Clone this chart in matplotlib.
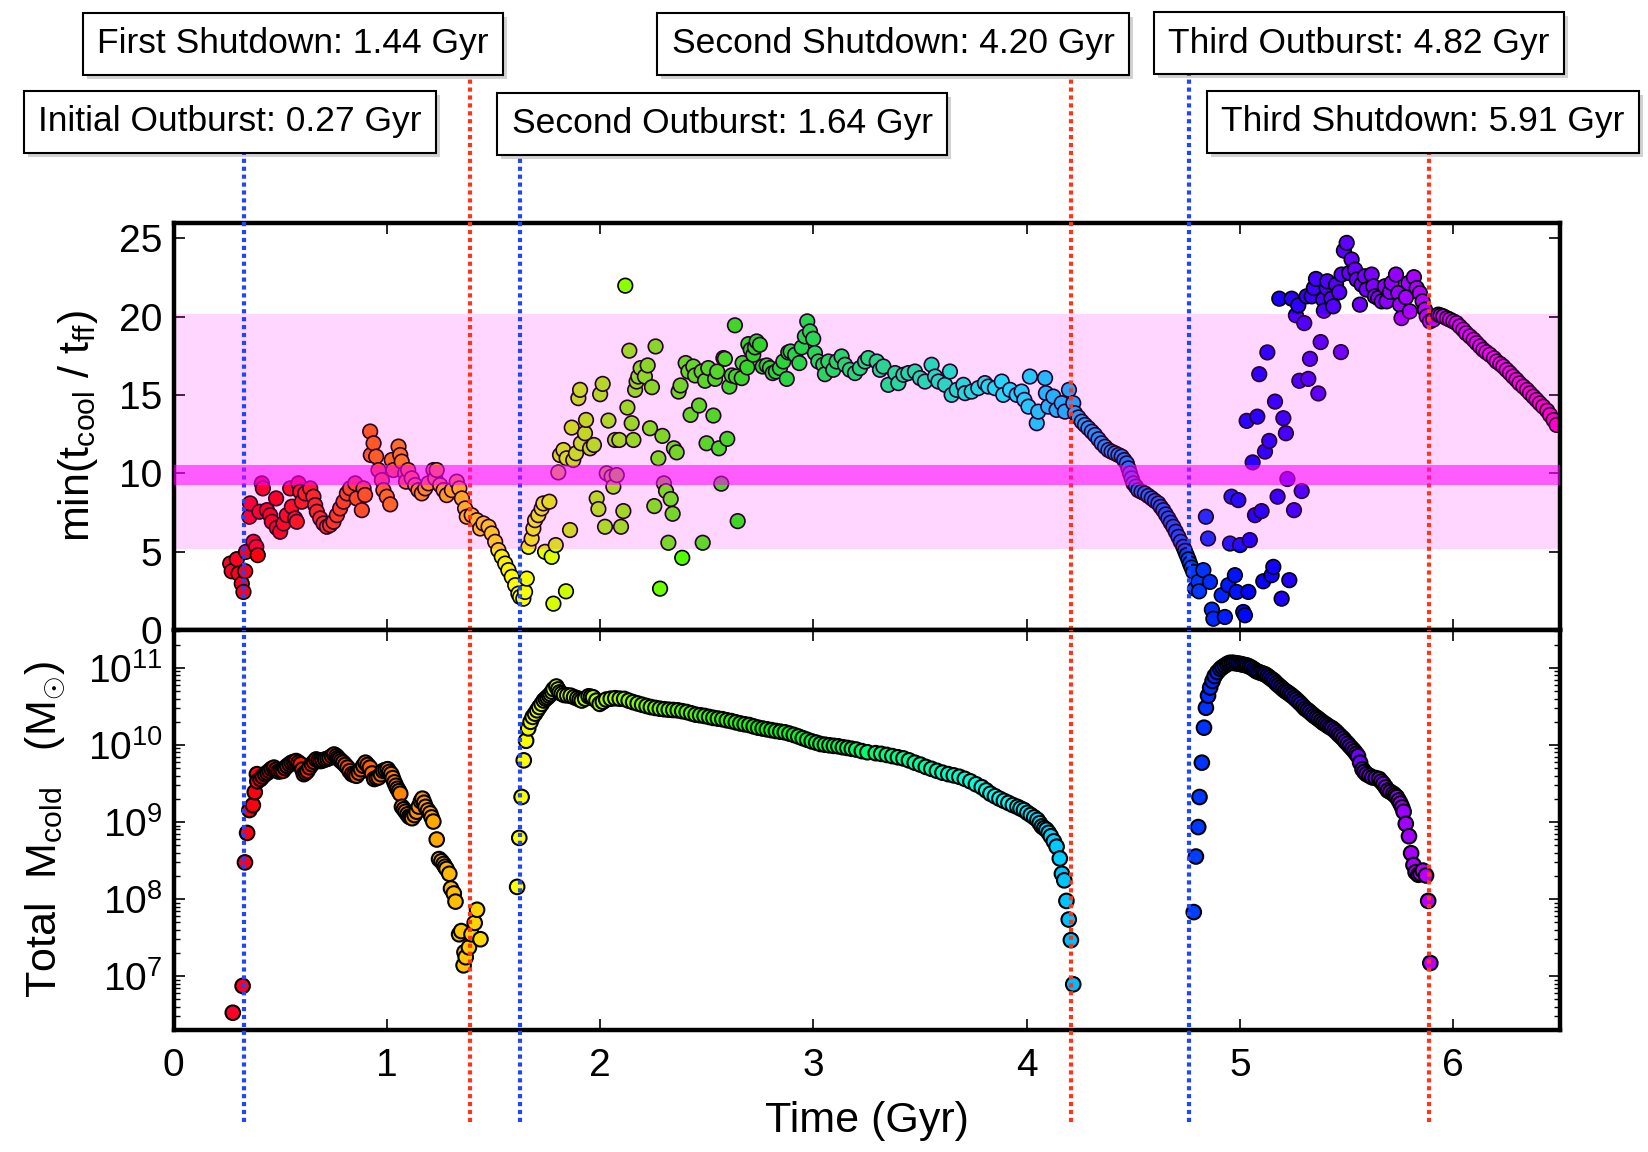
import numpy as np
import matplotlib
matplotlib.use('Agg')
import matplotlib.pyplot as plt
from matplotlib import patheffects

plt.rcParams['font.family'] = ['Liberation Sans', 'DejaVu Sans']
plt.rcParams['mathtext.fontset'] = 'custom'
plt.rcParams['mathtext.rm'] = 'Liberation Sans'
plt.rcParams['mathtext.it'] = 'Liberation Sans:italic'
plt.rcParams['mathtext.bf'] = 'Liberation Sans:bold'

# ---- top panel: min(t_cool / t_ff) vs time (Gyr) ----
t_ratio = [
    0.266, 0.273, 0.297, 0.305, 0.320, 0.328, 0.336, 0.340, 0.356, 0.359,
    0.375, 0.388, 0.395, 0.403, 0.414, 0.419, 0.438, 0.453, 0.461, 0.481,
    0.484, 0.500, 0.516, 0.531, 0.547, 0.555, 0.570, 0.578, 0.586, 0.594,
    0.602, 0.617, 0.641, 0.656, 0.664, 0.672, 0.688, 0.703, 0.719, 0.734,
    0.750, 0.766, 0.781, 0.797, 0.813, 0.828, 0.852, 0.859, 0.883, 0.891,
    0.898, 0.922, 0.925, 0.938, 0.950, 0.961, 0.977, 0.984, 1.000, 1.016,
    1.023, 1.031, 1.055, 1.063, 1.070, 1.086, 1.090, 1.100, 1.117, 1.133,
    1.148, 1.164, 1.180, 1.195, 1.219, 1.227, 1.234, 1.250, 1.266, 1.281,
    1.305, 1.328, 1.340, 1.352, 1.367, 1.375, 1.398, 1.422, 1.438, 1.453,
    1.477, 1.492, 1.508, 1.523, 1.539, 1.555, 1.570, 1.586, 1.602, 1.617,
    1.625, 1.640, 1.648, 1.656, 1.664, 1.679, 1.687, 1.695, 1.710, 1.726,
    1.734, 1.742, 1.762, 1.773, 1.781, 1.792, 1.804, 1.812, 1.828, 1.840,
    1.843, 1.859, 1.867, 1.874, 1.887, 1.898, 1.906, 1.910, 1.929, 1.934,
    1.953, 1.971, 1.984, 1.992, 2.000, 2.012, 2.023, 2.031, 2.039, 2.054,
    2.062, 2.070, 2.078, 2.090, 2.098, 2.109, 2.118, 2.128, 2.137, 2.148,
    2.156, 2.164, 2.171, 2.179, 2.190, 2.210, 2.223, 2.234, 2.243, 2.254,
    2.260, 2.273, 2.281, 2.292, 2.299, 2.309, 2.320, 2.331, 2.340, 2.346,
    2.359, 2.368, 2.377, 2.385, 2.401, 2.414, 2.424, 2.437, 2.445, 2.464,
    2.476, 2.481, 2.492, 2.499, 2.507, 2.531, 2.539, 2.549, 2.557, 2.568,
    2.578, 2.585, 2.596, 2.606, 2.617, 2.632, 2.637, 2.645, 2.664, 2.668,
    2.690, 2.695, 2.706, 2.718, 2.726, 2.734, 2.749, 2.762, 2.781, 2.796,
    2.809, 2.824, 2.843, 2.859, 2.875, 2.882, 2.893, 2.914, 2.934, 2.945,
    2.960, 2.971, 2.984, 2.999, 3.007, 3.023, 3.046, 3.054, 3.070, 3.093,
    3.109, 3.132, 3.148, 3.171, 3.195, 3.218, 3.242, 3.257, 3.297, 3.312,
    3.328, 3.351, 3.383, 3.398, 3.422, 3.445, 3.476, 3.500, 3.523, 3.554,
    3.570, 3.586, 3.617, 3.640, 3.648, 3.672, 3.703, 3.711, 3.742, 3.773,
    3.804, 3.820, 3.851, 3.883, 3.890, 3.922, 3.953, 3.976, 3.989, 4.008,
    4.015, 4.047, 4.054, 4.086, 4.090, 4.101, 4.125, 4.140, 4.164, 4.179,
    4.198, 4.218, 4.226, 4.242, 4.258, 4.273, 4.289, 4.305, 4.320, 4.336,
    4.351, 4.367, 4.383, 4.398, 4.414, 4.430, 4.445, 4.457, 4.469, 4.477,
    4.484, 4.492, 4.500, 4.512, 4.523, 4.538, 4.554, 4.570, 4.586, 4.601,
    4.617, 4.628, 4.640, 4.652, 4.664, 4.675, 4.687, 4.699, 4.711, 4.722,
    4.734, 4.742, 4.750, 4.758, 4.765, 4.773, 4.781, 4.789, 4.804, 4.808,
    4.828, 4.840, 4.850, 4.859, 4.868, 4.875, 4.914, 4.929, 4.945, 4.953,
    4.960, 4.976, 4.984, 4.992, 5.000, 5.015, 5.023, 5.031, 5.039, 5.046,
    5.059, 5.070, 5.081, 5.090, 5.101, 5.109, 5.117, 5.128, 5.137, 5.148,
    5.156, 5.164, 5.176, 5.184, 5.195, 5.203, 5.215, 5.222, 5.231, 5.242,
    5.253, 5.262, 5.273, 5.278, 5.289, 5.301, 5.312, 5.320, 5.328, 5.336,
    5.346, 5.356, 5.367, 5.378, 5.390, 5.393, 5.406, 5.409, 5.429, 5.437,
    5.450, 5.465, 5.473, 5.476, 5.487, 5.500, 5.512, 5.523, 5.539, 5.547,
    5.562, 5.570, 5.585, 5.593, 5.617, 5.625, 5.632, 5.648, 5.664, 5.679,
    5.687, 5.703, 5.711, 5.731, 5.742, 5.750, 5.757, 5.778, 5.789, 5.796,
    5.815, 5.828, 5.843, 5.856, 5.867, 5.875, 5.890, 5.906, 5.929, 5.940,
    5.953, 5.970, 5.984, 6.000, 6.015, 6.030, 6.046, 6.060, 6.078, 6.095,
    6.109, 6.125, 6.140, 6.155, 6.171, 6.190, 6.203, 6.220, 6.234, 6.250,
    6.265, 6.280, 6.296, 6.310, 6.328, 6.345, 6.359, 6.375, 6.390, 6.405,
    6.421, 6.440, 6.453, 6.470, 6.484,
]
ratio = [
    4.24, 3.75, 4.52, 3.60, 2.96, 2.43, 3.75, 4.99, 7.23, 8.08,
    5.63, 5.31, 4.78, 7.55, 9.36, 9.04, 7.65, 7.33, 6.91, 8.40,
    6.52, 6.27, 6.80, 7.33, 9.04, 7.87, 7.12, 6.91, 9.36, 8.83,
    8.19, 8.72, 9.04, 8.51, 7.97, 7.55, 7.12, 6.80, 6.59, 6.70,
    6.91, 7.33, 7.76, 8.19, 8.72, 9.04, 9.36, 8.40, 7.65, 9.04,
    8.62, 12.67, 11.17, 11.92, 11.07, 10.21, 9.57, 8.93, 8.51, 8.02,
    10.85, 10.21, 11.71, 11.17, 10.75, 10.00, 9.47, 10.21, 9.68, 9.25,
    8.93, 8.72, 9.04, 9.36, 10.21, 9.68, 10.21, 9.25, 8.93, 8.61,
    8.93, 9.47, 9.04, 8.40, 7.76, 7.23, 7.33, 7.01, 6.48, 6.80,
    6.59, 6.16, 5.63, 5.10, 4.67, 4.24, 3.82, 3.39, 2.86, 2.32,
    2.11, 2.00, 2.43, 3.28, 5.31, 5.84, 6.48, 7.01, 7.33, 7.76,
    8.08, 4.99, 8.19, 4.67, 1.68, 5.42, 10.06, 11.17, 11.49, 2.47,
    10.96, 6.38, 12.92, 10.85, 11.28, 14.80, 15.33, 11.92, 12.56, 13.41,
    11.60, 11.81, 8.40, 7.72, 15.05, 15.71, 6.59, 10.00, 13.37, 9.79,
    9.15, 12.13, 9.89, 12.13, 6.59, 7.59, 21.98, 14.20, 17.83, 13.20,
    12.13, 15.33, 15.86, 16.18, 16.72, 16.18, 16.89, 12.88, 15.50, 7.91,
    18.10, 10.96, 2.64, 12.39, 9.36, 8.87, 5.57, 8.36, 7.42, 11.60,
    11.34, 15.22, 15.61, 4.61, 17.04, 16.50, 13.73, 16.82, 16.25, 14.33,
    16.50, 5.57, 15.91, 11.92, 16.72, 13.69, 16.03, 16.50, 11.60, 9.34,
    17.36, 17.31, 12.20, 15.54, 16.25, 19.45, 16.18, 6.95, 16.08, 17.04,
    16.76, 18.25, 17.89, 17.57, 18.04, 18.42, 18.21, 16.82, 16.89, 16.72,
    16.40, 16.50, 16.72, 17.14, 16.03, 17.72, 17.78, 17.57, 17.04, 18.04,
    18.74, 19.70, 19.06, 18.59, 17.68, 17.14, 16.93, 16.33, 17.14, 16.61,
    17.14, 17.46, 16.93, 16.61, 16.40, 16.72, 17.14, 17.36, 17.14, 16.61,
    16.82, 15.65, 16.40, 15.76, 16.29, 16.40, 16.50, 16.08, 15.86, 16.93,
    16.18, 15.86, 15.65, 16.50, 15.01, 15.33, 15.65, 15.12, 15.22, 15.44,
    15.76, 15.54, 15.44, 15.86, 15.01, 15.33, 15.01, 15.22, 14.69, 14.26,
    16.18, 13.20, 13.94, 16.08, 15.12, 14.26, 14.90, 14.05, 14.48, 13.94,
    15.33, 14.48, 13.84, 13.57, 13.30, 13.09, 12.88, 12.66, 12.45, 12.18,
    11.92, 11.70, 11.49, 11.38, 11.28, 11.17, 11.07, 10.85, 10.64, 10.32,
    10.00, 9.68, 9.36, 9.15, 8.93, 8.82, 8.72, 8.56, 8.40, 8.24,
    8.08, 7.86, 7.65, 7.38, 7.12, 6.85, 6.59, 6.27, 5.95, 5.63,
    5.31, 5.05, 4.78, 4.51, 4.24, 3.98, 3.71, 2.64, 3.07, 2.47,
    3.82, 7.23, 5.84, 3.07, 1.30, 0.72, 2.22, 0.83, 2.86, 5.52,
    8.51, 3.50, 2.43, 8.29, 5.42, 1.15, 0.94, 13.35, 2.43, 5.74,
    10.70, 7.33, 13.62, 16.33, 7.59, 3.11, 11.39, 17.72, 12.07, 3.50,
    4.03, 14.58, 8.51, 21.15, 2.00, 13.52, 12.56, 9.64, 3.18, 21.15,
    7.65, 20.09, 20.72, 15.91, 8.87, 19.59, 21.30, 16.03, 17.31, 21.30,
    21.83, 22.41, 15.10, 18.38, 21.09, 20.38, 21.83, 22.26, 21.15, 20.66,
    22.05, 21.56, 17.74, 22.69, 24.22, 24.71, 22.79, 23.65, 23.00, 22.37,
    20.77, 22.05, 22.58, 21.73, 22.69, 21.94, 21.30, 21.19, 20.98, 21.94,
    20.98, 21.58, 22.15, 22.69, 21.51, 20.77, 19.91, 21.24, 22.15, 20.34,
    22.52, 21.83, 21.51, 20.98, 20.45, 20.02, 19.70, 19.81, 20.13, 20.08,
    20.02, 19.90, 19.81, 19.70, 19.59, 19.38, 19.17, 18.95, 18.74, 18.53,
    18.32, 18.10, 17.89, 17.73, 17.57, 17.35, 17.14, 16.98, 16.82, 16.60,
    16.40, 16.18, 15.97, 15.75, 15.54, 15.33, 15.12, 14.90, 14.69, 14.47,
    14.26, 14.00, 13.73, 13.40, 13.09,
]

# ---- bottom panel: total cold gas mass, log10(M / Msun) ----
t_cold = [
    0.278, 0.324, 0.335, 0.345, 0.356, 0.372, 0.381, 0.391, 0.393, 0.408,
    0.418, 0.429, 0.440, 0.450, 0.460, 0.471, 0.482, 0.492, 0.503, 0.513,
    0.523, 0.533, 0.544, 0.554, 0.565, 0.575, 0.586, 0.596, 0.604, 0.611,
    0.620, 0.628, 0.638, 0.649, 0.659, 0.669, 0.680, 0.690, 0.700, 0.711,
    0.722, 0.732, 0.743, 0.753, 0.764, 0.771, 0.778, 0.786, 0.795, 0.805,
    0.816, 0.826, 0.837, 0.848, 0.858, 0.869, 0.879, 0.890, 0.900, 0.910,
    0.921, 0.931, 0.941, 0.952, 0.962, 0.973, 0.983, 0.994, 1.004, 1.012,
    1.021, 1.028, 1.036, 1.043, 1.050, 1.057, 1.063, 1.071, 1.080, 1.088,
    1.097, 1.105, 1.112, 1.119, 1.130, 1.140, 1.150, 1.160, 1.167, 1.175,
    1.182, 1.193, 1.203, 1.210, 1.218, 1.234, 1.245, 1.256, 1.266, 1.273,
    1.280, 1.293, 1.301, 1.314, 1.322, 1.339, 1.349, 1.360, 1.364, 1.370,
    1.385, 1.397, 1.412, 1.423, 1.439,
    1.611, 1.621, 1.632, 1.642, 1.653, 1.663, 1.674, 1.684, 1.695, 1.705,
    1.715, 1.726, 1.736, 1.745, 1.753, 1.761, 1.768, 1.775, 1.782, 1.795,
    1.803, 1.810, 1.820, 1.831, 1.846, 1.862, 1.878, 1.893, 1.904, 1.914,
    1.930, 1.946, 1.957, 1.967, 1.983, 1.998, 2.013, 2.029, 2.050, 2.071,
    2.092, 2.113, 2.134, 2.155, 2.176, 2.197, 2.218, 2.238, 2.259, 2.280,
    2.301, 2.322, 2.343, 2.364, 2.385, 2.406, 2.427, 2.448, 2.469, 2.490,
    2.511, 2.531, 2.552, 2.573, 2.594, 2.615, 2.636, 2.657, 2.678, 2.699,
    2.720, 2.741, 2.762, 2.782, 2.803, 2.824, 2.845, 2.866, 2.887, 2.908,
    2.929, 2.950, 2.971, 2.992, 3.013, 3.033, 3.054, 3.075, 3.096, 3.117,
    3.138, 3.159, 3.180, 3.201, 3.227, 3.253, 3.292, 3.318, 3.344, 3.370,
    3.396, 3.422, 3.448, 3.475, 3.501, 3.527, 3.553, 3.579, 3.605, 3.632,
    3.658, 3.684, 3.710, 3.736, 3.762, 3.789, 3.810, 3.830, 3.851, 3.872,
    3.893, 3.914, 3.935, 3.956, 3.971, 3.987, 4.003, 4.019, 4.035, 4.050,
    4.061, 4.071, 4.082, 4.092, 4.103, 4.113, 4.127, 4.140, 4.155, 4.165,
    4.176, 4.186, 4.197, 4.207, 4.218,
    4.783, 4.793, 4.804, 4.810, 4.821, 4.831, 4.840, 4.850, 4.860, 4.871,
    4.881, 4.894, 4.908, 4.918, 4.929, 4.940, 4.950, 4.961, 4.971, 4.982,
    4.992, 5.003, 5.013, 5.024, 5.034, 5.045, 5.055, 5.066, 5.076, 5.087,
    5.097, 5.108, 5.118, 5.129, 5.139, 5.150, 5.160, 5.170, 5.180, 5.191,
    5.201, 5.212, 5.222, 5.233, 5.243, 5.254, 5.264, 5.275, 5.285, 5.296,
    5.306, 5.317, 5.327, 5.338, 5.348, 5.359, 5.369, 5.380, 5.390, 5.401,
    5.411, 5.422, 5.432, 5.443, 5.453, 5.463, 5.473, 5.484, 5.494, 5.505,
    5.515, 5.526, 5.536, 5.545, 5.553, 5.563, 5.574, 5.583, 5.593, 5.607,
    5.620, 5.636, 5.652, 5.662, 5.672, 5.683, 5.693, 5.705, 5.718, 5.727,
    5.735, 5.744, 5.752, 5.760, 5.767, 5.777, 5.792, 5.802, 5.813, 5.823,
    5.836, 5.846, 5.857, 5.872, 5.882, 5.892,
]
log_mcold = [
    6.525, 6.873, 8.476, 8.858, 9.155, 9.218, 9.388, 9.621, 9.528, 9.558,
    9.590, 9.621, 9.640, 9.664, 9.690, 9.706, 9.680, 9.655, 9.660, 9.664,
    9.700, 9.727, 9.750, 9.770, 9.780, 9.791, 9.770, 9.749, 9.680, 9.621,
    9.640, 9.664, 9.710, 9.749, 9.780, 9.812, 9.800, 9.791, 9.800, 9.812,
    9.820, 9.833, 9.855, 9.876, 9.855, 9.830, 9.812, 9.790, 9.770, 9.740,
    9.706, 9.660, 9.621, 9.610, 9.600, 9.640, 9.685, 9.730, 9.770, 9.740,
    9.706, 9.630, 9.558, 9.570, 9.579, 9.620, 9.664, 9.675, 9.685, 9.650,
    9.621, 9.570, 9.515, 9.470, 9.431, 9.400, 9.367, 9.197, 9.165, 9.134,
    9.100, 9.070, 9.060, 9.049, 9.090, 9.134, 9.200, 9.270, 9.303, 9.250,
    9.197, 9.150, 9.112, 9.060, 9.006, 8.773, 8.519, 8.490, 8.455, 8.420,
    8.391, 8.328, 8.137, 8.073, 7.967, 7.543, 7.585, 7.140, 7.310, 7.246,
    7.373, 7.543, 7.691, 7.861, 7.479,
    8.158, 8.794, 9.325, 9.800, 10.054, 10.215, 10.300, 10.364, 10.406, 10.449,
    10.491, 10.533, 10.576, 10.600, 10.618, 10.640, 10.661, 10.690, 10.724, 10.758,
    10.720, 10.682, 10.665, 10.648, 10.643, 10.639, 10.620, 10.606, 10.590, 10.576,
    10.600, 10.631, 10.625, 10.618, 10.575, 10.533, 10.560, 10.589, 10.600, 10.606,
    10.600, 10.597, 10.575, 10.555, 10.538, 10.521, 10.505, 10.491, 10.480, 10.470,
    10.463, 10.457, 10.453, 10.449, 10.438, 10.427, 10.410, 10.393, 10.385, 10.376,
    10.363, 10.351, 10.342, 10.334, 10.320, 10.309, 10.294, 10.279, 10.268, 10.258,
    10.240, 10.224, 10.213, 10.203, 10.192, 10.181, 10.172, 10.164, 10.147, 10.130,
    10.110, 10.088, 10.067, 10.046, 10.030, 10.012, 10.003, 9.995, 9.988, 9.982,
    9.970, 9.961, 9.950, 9.940, 9.920, 9.905, 9.893, 9.884, 9.870, 9.855,
    9.840, 9.825, 9.800, 9.770, 9.745, 9.715, 9.690, 9.664, 9.640, 9.621,
    9.605, 9.587, 9.560, 9.528, 9.490, 9.452, 9.410, 9.367, 9.335, 9.303,
    9.275, 9.248, 9.220, 9.197, 9.175, 9.155, 9.120, 9.091, 9.060, 9.028,
    8.985, 8.943, 8.920, 8.900, 8.860, 8.815, 8.750, 8.680, 8.527, 8.328,
    8.243, 7.976, 7.734, 7.467, 6.894,
    7.831, 8.552, 8.934, 9.324, 9.770, 10.224, 10.482, 10.639, 10.745, 10.830,
    10.894, 10.945, 10.987, 11.010, 11.030, 11.050, 11.064, 11.066, 11.064, 11.060,
    11.055, 11.050, 11.042, 11.036, 11.030, 11.015, 11.000, 10.980, 10.958, 10.946,
    10.936, 10.925, 10.915, 10.895, 10.873, 10.850, 10.830, 10.800, 10.775, 10.750,
    10.724, 10.700, 10.682, 10.660, 10.639, 10.614, 10.589, 10.560, 10.533, 10.500,
    10.470, 10.450, 10.427, 10.400, 10.376, 10.355, 10.334, 10.310, 10.287, 10.270,
    10.249, 10.230, 10.215, 10.190, 10.164, 10.135, 10.109, 10.080, 10.046, 10.015,
    9.982, 9.950, 9.918, 9.885, 9.855, 9.770, 9.685, 9.650, 9.621, 9.600,
    9.579, 9.570, 9.558, 9.525, 9.494, 9.450, 9.409, 9.390, 9.367, 9.345,
    9.324, 9.280, 9.240, 9.190, 9.134, 8.977, 8.815, 8.595, 8.442, 8.349,
    8.315, 8.330, 8.370, 8.306, 7.976, 7.170,
]

# ---- events: dotted lines and labelled boxes ----
event_time = [0.33, 1.39, 1.625, 4.208, 4.762, 5.887]
event_color = ['#1f45ff', '#ff3418', '#1f45ff', '#ff3418', '#1f45ff', '#ff3418']
event_label = ['Initial Outburst: 0.27 Gyr', 'First Shutdown: 1.44 Gyr',
               'Second Outburst: 1.64 Gyr', 'Second Shutdown: 4.20 Gyr',
               'Third Outburst: 4.82 Gyr', 'Third Shutdown: 5.91 Gyr']
# box centres in pixels of the 1648x1152 figure
box_x = [230, 293, 722, 893, 1359, 1423]
box_y = [122, 44, 124, 44, 43, 122]

W, H = 1648, 1152
fig = plt.figure(figsize=(W / 100, H / 100), dpi=100)
ax1 = fig.add_axes([173.5 / W, 1 - 630 / H, 1386.5 / W, 407.3 / H])
ax2 = fig.add_axes([173.5 / W, 1 - 1030 / H, 1386.5 / W, 400 / H], sharex=ax1)

t_ratio = np.array(t_ratio)
ratio = np.array(ratio)
t_cold = np.array(t_cold)
mcold = 10 ** np.array(log_mcold)

cmap = 'gist_rainbow'
vmin, vmax = 0.266, 6.5
ax1.scatter(t_ratio, ratio, c=t_ratio, cmap=cmap, vmin=vmin, vmax=vmax,
            s=110, edgecolors='k', linewidths=1.2, zorder=2)
ax2.scatter(t_cold, mcold, c=t_cold, cmap=cmap, vmin=vmin, vmax=vmax,
            s=110, edgecolors='k', linewidths=1.5, zorder=2)

# shaded bands, translucent and drawn over the points
ax1.axhspan(5.2, 20.2, color='#ff00ff', alpha=0.16, lw=0, zorder=2.5)
ax1.axhspan(9.25, 10.55, color='#ff00ff', alpha=0.57, lw=0, zorder=4)

# dotted event lines reaching from the label boxes to below the x label
for t, c, yb in zip(event_time, event_color, box_y):
    ax1.axvline(t, ymin=0, ymax=(630 - yb) / 407.3, color=c, lw=3.0,
                ls=(0, (1, 0.9)), clip_on=False, zorder=3)
    ax2.axvline(t, ymin=(1030 - 1122) / 400, ymax=1, color=c, lw=3.0,
                ls=(0, (1, 0.9)), clip_on=False, zorder=3)

for lab, bx, by in zip(event_label, box_x, box_y):
    txt = fig.text(bx / W, 1 - by / H, lab, ha='center', va='center',
                   fontsize=25.5, zorder=5,
                   bbox=dict(boxstyle='square,pad=0.41', fc='white',
                             ec='black', lw=1.5))
    txt.get_bbox_patch().set_path_effects([
        patheffects.SimplePatchShadow(offset=(3, -3), alpha=0.25),
        patheffects.Normal()])

ax1.set_xlim(0, 6.5)
ax1.set_ylim(0, 26)
ax1.set_yticks([0, 5, 10, 15, 20, 25])
ax1.set_xticks(range(7))
ax2.set_yscale('log')
ax2.set_ylim(2e6, 3.1e11)

for ax in (ax1, ax2):
    for sp in ax.spines.values():
        sp.set_linewidth(3.2)
    ax.tick_params(which='both', direction='in', top=True, right=True)
    ax.tick_params(which='major', length=8, width=1.2, labelsize=28)
    ax.tick_params(axis='y', pad=8)
ax2.tick_params(which='minor', length=4, width=1.0)
ax2.tick_params(axis='x', pad=13)
ax1.tick_params(labelbottom=False)

ax1.set_ylabel(r'min(t$_{\rm cool}$ / t$_{\rm ff}$)', fontsize=31, labelpad=14)
ax2.set_ylabel(r'Total  M$_{\rm cold}$   (M$_{\odot}$)', fontsize=31,
               labelpad=14)
ax2.set_xlabel('Time (Gyr)', fontsize=31, labelpad=12)

fig.savefig('out.png', dpi=100)
